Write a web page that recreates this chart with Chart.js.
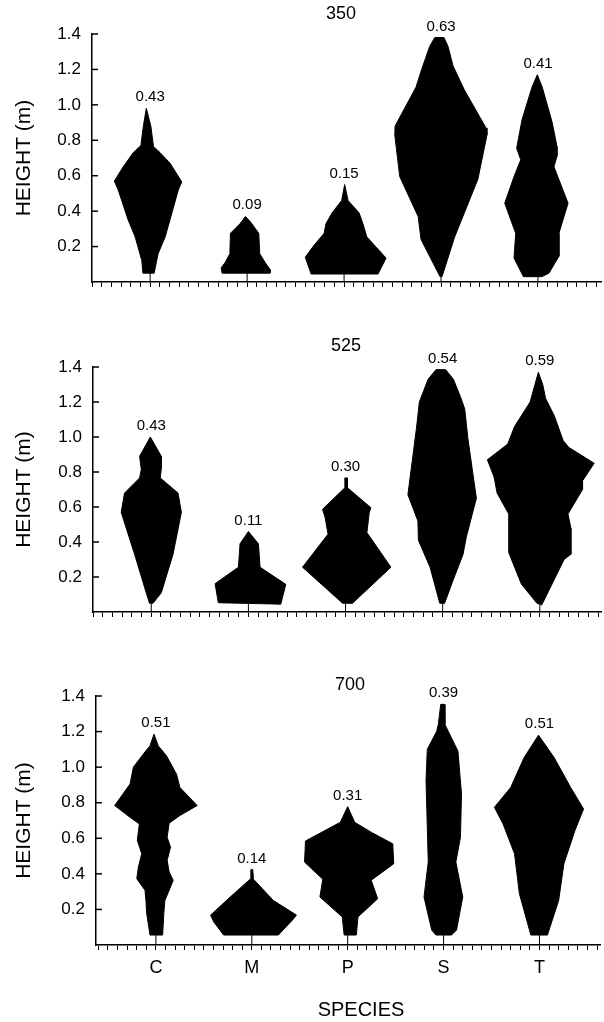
<!DOCTYPE html>
<html><head><meta charset="utf-8">
<script src="https://cdn.jsdelivr.net/npm/chart.js@4.4.1/dist/chart.umd.min.js"></script>
<style>
html,body{margin:0;padding:0;background:#fff;}
body{width:604px;height:1022px;position:relative;overflow:hidden;}
canvas{position:absolute;left:0;}
</style></head><body>
<canvas id="p350" width="604" height="304" style="top:0px"></canvas>
<canvas id="p525" width="604" height="314" style="top:320px"></canvas>
<canvas id="p700" width="604" height="372" style="top:650px"></canvas>
<script>
// ---------- DATA ----------
const species = ['C', 'M', 'P', 'S', 'T'];
const speciesAt = [6, 16, 26, 36, 46];          // x-axis value of each species (minor tick units)
const panelTitles = ['350', '525', '700'];
const labels350 = ['0.43', '0.09', '0.15', '0.63', '0.41'];
const labels525 = ['0.43', '0.11', '0.30', '0.54', '0.59'];
const labels700 = ['0.51', '0.14', '0.31', '0.39', '0.51'];

// crown profiles: [height (m), offset from species tick (minor-tick units)], listed top to bottom
const C350_left  = [[0.98,-0.4],[0.88,-0.7],[0.77,-0.96],[0.73,-1.75],[0.65,-2.78],[0.57,-3.7],[0.52,-3.3],[0.35,-2.27],[0.255,-1.55],[0.12,-0.86],[0.05,-0.75]];
const C350_right = [[0.88,0.07],[0.765,0.34],[0.73,1.03],[0.67,2.06],[0.565,3.26],[0.52,2.9],[0.39,2.24],[0.255,1.55],[0.16,0.82],[0.05,0.41]];
const M350_left  = [[0.37,-0.17],[0.33,-0.72],[0.275,-1.72],[0.16,-1.78],[0.11,-2.27],[0.08,-2.68],[0.05,-2.58]];
const M350_right = [[0.34,0.34],[0.275,1.2],[0.16,1.3],[0.11,1.86],[0.07,2.37],[0.05,2.37]];
const P350_left  = [[0.55,0.06],[0.46,-0.25],[0.39,-1.24],[0.33,-1.86],[0.275,-2.06],[0.2,-3.2],[0.14,-4.0],[0.045,-3.4]];
const P350_right = [[0.46,0.41],[0.39,1.55],[0.33,1.94],[0.255,2.34],[0.135,4.33],[0.045,3.5]];
const S350_left  = [[1.38,-0.65],[1.33,-1.17],[1.2,-2.0],[1.1,-2.58],[0.88,-4.74],[0.83,-4.77],[0.595,-4.26],[0.37,-2.36],[0.24,-2.06],[0.03,-0.1]];
const S350_right = [[1.38,0.31],[1.33,0.72],[1.22,1.24],[1.085,2.4],[0.87,4.64],[0.83,4.74],[0.58,3.8],[0.39,2.4],[0.255,1.41],[0.03,0.1]];
const T350_left  = [[1.17,-0.07],[1.1,-0.62],[0.915,-1.65],[0.755,-2.2],[0.69,-1.78],[0.595,-2.47],[0.445,-3.43],[0.275,-2.3],[0.135,-2.47],[0.03,-1.5]];
const T350_right = [[1.1,0.44],[0.9,1.47],[0.765,1.96],[0.71,1.96],[0.65,1.65],[0.445,3.1],[0.275,2.16],[0.145,2.16],[0.05,1.13],[0.03,0.4]];

const C525_left  = [[1.0,-0.1],[0.89,-1.2],[0.815,-1.03],[0.766,-1.2],[0.68,-2.75],[0.57,-3.1],[0.33,-1.72],[0.11,-0.52],[0.05,-0.18]];
const C525_right = [[0.89,1.03],[0.82,1.03],[0.766,0.93],[0.68,2.75],[0.57,3.1],[0.33,2.24],[0.11,1.03],[0.05,0.18]];
const M525_left  = [[0.46,0],[0.39,-0.86],[0.256,-1.03],[0.162,-3.43],[0.053,-3.1]];
const M525_right = [[0.39,1.03],[0.256,1.2],[0.158,3.85],[0.045,3.33]];
const P525_left  = [[0.766,-0.07],[0.71,-0.07],[0.587,-2.37],[0.54,-2.1],[0.445,-1.8],[0.256,-4.43],[0.05,-0.3]];
const P525_right = [[0.766,0.2],[0.71,0.2],[0.596,2.61],[0.568,2.44],[0.454,2.2],[0.256,4.67],[0.05,0.72]];
const S525_left  = [[1.385,-0.69],[1.33,-1.5],[1.2,-2.4],[1.05,-2.7],[0.67,-3.58],[0.52,-2.55],[0.41,-2.5],[0.256,-1.3],[0.05,-0.3]];
const S525_right = [[1.385,0.31],[1.33,1.1],[1.22,1.9],[1.16,2.27],[0.99,2.6],[0.65,3.47],[0.43,2.44],[0.33,2.1],[0.18,1.06],[0.05,0.2]];
const T525_left  = [[1.37,-0.15],[1.3,-0.5],[1.2,-1.0],[1.06,-2.6],[0.96,-3.3],[0.87,-5.4],[0.77,-4.7],[0.68,-4.4],[0.56,-3.2],[0.34,-3.2],[0.16,-1.9],[0.05,-0.3]];
const T525_right = [[1.3,0.3],[1.22,0.6],[1.12,1.5],[0.98,2.4],[0.94,3.0],[0.85,5.6],[0.75,4.4],[0.7,4.4],[0.56,2.9],[0.48,3.2],[0.33,3.2],[0.3,2.5],[0.04,0.2]];

const C700_left  = [[1.185,-0.2],[1.12,-0.62],[1.073,-1.33],[1.0,-2.35],[0.905,-2.7],[0.784,-4.3],[0.718,-2.7],[0.681,-1.73],[0.588,-1.94],[0.513,-1.48],[0.438,-1.83],[0.373,-2.0],[0.308,-1.14],[0.25,-1.04],[0.18,-0.97],[0.056,-0.62]];
const C700_right = [[1.12,0.24],[1.064,1.1],[0.96,2.15],[0.886,2.5],[0.784,4.3],[0.728,2.5],[0.685,1.38],[0.606,1.17],[0.55,1.52],[0.476,1.17],[0.41,1.38],[0.364,1.8],[0.317,1.45],[0.25,0.93],[0.18,0.83],[0.056,0.7]];
const M700_left  = [[0.424,-0.1],[0.37,-0.17],[0.27,-2.25],[0.168,-4.3],[0.13,-3.97],[0.056,-2.94]];
const M700_right = [[0.424,0.1],[0.37,0.17],[0.25,2.25],[0.168,4.66],[0.144,4.3],[0.056,2.77]];
const P700_left  = [[0.778,0],[0.69,-0.77],[0.585,-4.4],[0.466,-4.5],[0.37,-2.6],[0.27,-2.9],[0.158,-0.57],[0.056,-0.37]];
const P700_right = [[0.69,0.73],[0.634,2.45],[0.569,4.7],[0.457,4.8],[0.364,2.45],[0.26,3.13],[0.158,1.07],[0.056,0.9]];
const S700_left  = [[1.353,-0.3],[1.24,-0.55],[1.2,-0.73],[1.1,-1.7],[0.924,-1.83],[0.466,-1.6],[0.27,-2.04],[0.084,-1.24],[0.056,-0.8]];
const S700_right = [[1.353,0.1],[1.24,0.14],[1.2,0.5],[1.09,1.5],[0.85,1.87],[0.606,1.76],[0.466,1.28],[0.27,2.0],[0.084,1.35],[0.056,0.83]];
const T700_left  = [[1.18,-0.1],[1.054,-1.6],[0.886,-3.0],[0.774,-4.7],[0.681,-3.8],[0.513,-2.6],[0.29,-2.1],[0.056,-0.9]];
const T700_right = [[1.054,1.53],[0.886,3.25],[0.765,4.6],[0.644,3.7],[0.457,2.55],[0.25,2.0],[0.056,0.83]];

// ---------- CHARTS ----------
const FONT = "'Liberation Sans', Arial, Helvetica, sans-serif";
Chart.defaults.font.family = FONT;
Chart.defaults.color = '#000';

function polygon(left, right, at) {
  const pts = left.slice().reverse().concat(right).map(p => ({x: at + p[1], y: p[0]}));
  pts.push(pts[0]);
  return pts;
}

const decor = {
  id: 'decor',
  afterDraw(chart, args, o) {
    const {ctx, chartArea: ca, scales: {x, y}} = chart;
    ctx.save();
    ctx.strokeStyle = '#000';
    ctx.lineWidth = 1.5;
    y.ticks.forEach(t => {
      if (t.value <= 0) return;
      const py = y.getPixelForValue(t.value);
      ctx.beginPath(); ctx.moveTo(ca.left, py); ctx.lineTo(ca.left + 6, py); ctx.stroke();
    });
    ctx.fillStyle = '#000';
    ctx.textAlign = 'center';
    ctx.textBaseline = 'middle';
    ctx.font = '18px ' + FONT;
    ctx.fillText(o.title, o.titleX, o.titleY);
    ctx.font = '15px ' + FONT;
    ctx.textBaseline = 'alphabetic';
    o.tops.forEach((top, i) => {
      ctx.fillText(o.labels[i], x.getPixelForValue(speciesAt[i]), y.getPixelForValue(top) - 7);
    });
    if (o.axisTitle) {
      ctx.font = '20px ' + FONT;
      ctx.textBaseline = 'middle';
      ctx.fillText(o.axisTitle, o.axisTitleX, o.axisTitleY);
    }
    ctx.restore();
  }
};

function makePanel(id, title, lefts, rights, labels, f) {
  const datasets = [];
  const tops = [];
  species.forEach((s, i) => {
    datasets.push({
      data: polygon(lefts[i], rights[i], speciesAt[i]),
      showLine: true, fill: 'shape', tension: 0,
      backgroundColor: '#000', borderColor: '#000', borderWidth: 1, pointRadius: 0
    });
  });
  species.forEach((s, i) => {
    const hs = lefts[i].concat(rights[i]).map(p => p[0]);
    tops.push(Math.max(...hs));
    datasets.push({
      data: [{x: speciesAt[i], y: 0}, {x: speciesAt[i], y: Math.min(...hs)}],
      showLine: true, fill: false, borderColor: '#000', borderWidth: 1, pointRadius: 0
    });
  });
  new Chart(document.getElementById(id), {
    type: 'scatter',
    data: {datasets},
    plugins: [decor],
    options: {
      responsive: false, animation: false, devicePixelRatio: 1, events: [],
      layout: {padding: {top: f.padTop, right: f.padRight, bottom: 0, left: 0}},
      plugins: {
        legend: {display: false}, tooltip: {enabled: false},
        decor: {title, titleX: f.titleX, titleY: f.titleY, labels, tops,
                axisTitle: f.categories ? 'SPECIES' : '', axisTitleX: 361, axisTitleY: 360}
      },
      scales: {
        x: {
          type: 'linear', position: 'bottom', min: f.xMin, max: f.xMax,
          afterFit: s => { s.height = f.xHeight; },
          grid: {display: true, drawOnChartArea: false, drawTicks: true, tickLength: 5, color: '#000', lineWidth: 1},
          border: {display: true, color: '#000', width: 1.5},
          ticks: {
            stepSize: 1, autoSkip: false, maxRotation: 0, minRotation: 0, includeBounds: false,
            display: f.categories, padding: 7, font: {size: 18}, color: '#000',
            callback: v => { const k = speciesAt.indexOf(v); return k >= 0 ? species[k] : ''; }
          }
        },
        y: {
          type: 'linear', min: 0, max: 1.4,
          afterFit: s => { s.width = f.axisLeft; },
          grid: {display: false, drawTicks: false},
          border: {display: true, color: '#000', width: 1.5},
          ticks: {stepSize: 0.2, padding: 11, font: {size: 17}, color: '#000',
                  callback: v => v <= 0 ? '' : v.toFixed(1)},
          title: {display: true, text: 'HEIGHT (m)', font: {size: 21}, color: '#000', padding: {top: 12, bottom: 0}}
        }
      }
    }
  });
}

makePanel('p350', panelTitles[0],
  [C350_left, M350_left, P350_left, S350_left, T350_left],
  [C350_right, M350_right, P350_right, S350_right, T350_right], labels350,
  {axisLeft: 92, xMin: 0, xMax: 52.5, padTop: 34, padRight: 3, xHeight: 22, titleX: 341, titleY: 14, categories: false});
makePanel('p525', panelTitles[1],
  [C525_left, M525_left, P525_left, S525_left, T525_left],
  [C525_right, M525_right, P525_right, S525_right, T525_right], labels525,
  {axisLeft: 93, xMin: 0, xMax: 52.3, padTop: 47, padRight: 3, xHeight: 22, titleX: 346, titleY: 26, categories: false});
makePanel('p700', panelTitles[2],
  [C700_left, M700_left, P700_left, S700_left, T700_left],
  [C700_right, M700_right, P700_right, S700_right, T700_right], labels700,
  {axisLeft: 96, xMin: -0.25, xMax: 52.4, padTop: 46, padRight: 0, xHeight: 77, titleX: 350, titleY: 35, categories: true});
</script>
</body></html>
